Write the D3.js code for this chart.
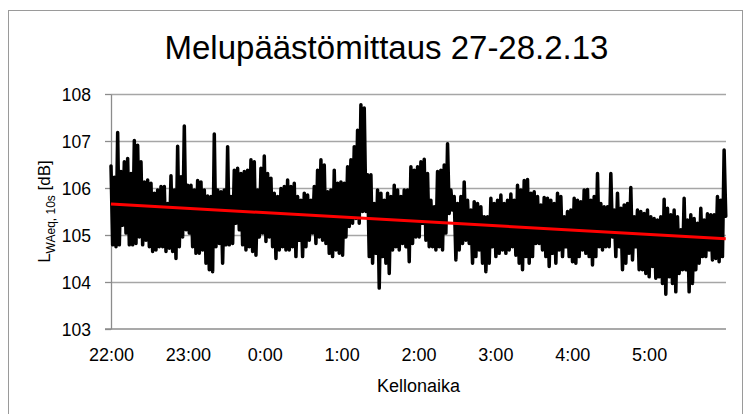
<!DOCTYPE html>
<html>
<head>
<meta charset="utf-8">
<script src="https://cdn.jsdelivr.net/npm/d3@7"></script>
<style>
  body { margin: 0; background: #fff; }
  svg { display: block; font-family: "Liberation Sans", Arial, sans-serif; }
</style>
</head>
<body>
<svg id="chart" width="752" height="414"></svg>
<script>
// chart texts
const title = 'Melupäästömittaus 27-28.2.13';
const xLabel = 'Kellonaika';
const yLabelMain = 'L';
const yLabelSub = 'WAeq, 10s';
const yLabelUnit = ' [dB]';

// axes
const yTicks = [103, 104, 105, 106, 107, 108];
const hourLabels = ['22:00', '23:00', '0:00', '1:00', '2:00', '3:00', '4:00', '5:00'];
const startTime = new Date(2013, 1, 27, 22, 0, 0);
const endTime = new Date(2013, 1, 28, 6, 0, 0);
const lastTime = new Date(2013, 1, 28, 5, 59, 50);

// LWAeq,10s: local maxima and minima, in time order (dB)
const peaks = [
  106.47, 106.23, 107.18, 106.35, 106.56, 106.63, 106.31, 107.01, 106.91, 106.56,
  106.13, 106.17, 106.10, 105.89, 105.96, 106.03, 106.03, 105.67, 106.26, 105.96,
  106.89, 106.24, 107.32, 106.06, 106.06, 105.96, 106.16, 106.13, 105.96, 105.83,
  105.82, 107.15, 105.96, 105.92, 105.96, 106.88, 105.82, 106.38, 106.42, 106.31,
  106.35, 106.38, 106.60, 106.56, 105.96, 106.42, 106.68, 106.31, 106.21, 105.89,
  105.82, 105.99, 106.03, 106.17, 106.03, 106.10, 105.82, 105.74, 105.89, 105.85, 105.74,
  106.03, 106.38, 106.60, 106.49, 105.92, 105.96, 106.38, 106.10, 106.13, 106.10,
  106.45, 106.60, 106.88, 107.23, 107.77, 107.70, 106.28, 106.28, 105.67, 105.96,
  105.89, 105.74, 105.89, 105.82, 106.06, 105.96, 105.82, 105.96, 105.96, 106.45, 106.38,
  106.45, 106.56, 106.61, 106.31, 105.74, 105.60, 106.35, 106.38, 106.49, 106.94,
  105.96, 105.82, 105.67, 105.82, 106.13, 105.74, 105.53, 105.71, 105.67, 105.60,
  105.39, 105.39, 105.78, 105.67, 105.74, 105.85, 105.67, 105.74, 105.87, 105.74,
  106.06, 105.96, 106.16, 106.18, 105.89, 105.92, 105.82, 105.64, 105.80, 105.78,
  105.74, 105.67, 105.89, 105.82, 105.39, 105.50, 105.53, 105.78, 105.74, 105.71,
  105.96, 105.97, 105.74, 105.82, 106.31, 105.67, 105.60, 105.60, 106.31, 105.53, 105.89,
  105.57, 105.64, 105.67, 106.01, 105.39, 105.53, 105.50, 105.46, 105.53, 105.39,
  105.35, 105.32, 105.39, 105.76, 105.57, 105.43, 105.53, 105.39, 105.11, 105.78,
  105.32, 105.43, 105.35, 105.25, 105.57, 105.32, 105.45, 105.43, 105.43, 105.82, 105.74, 106.81
];
const dips = [
  104.79, 104.75, 104.79, 105.21, 105.04, 104.79, 104.79, 104.82, 104.96, 104.79,
  104.89, 104.75, 104.65, 104.68, 104.75, 104.75, 104.65, 104.72, 104.65, 104.50,
  104.75, 104.96, 105.11, 105.04, 104.75, 104.61, 104.61, 104.68, 104.40, 104.26,
  104.22, 104.75, 104.82, 104.40, 104.79, 104.79, 104.82, 105.25, 105.11, 104.79,
  104.68, 104.75, 104.65, 104.57, 104.96, 105.04, 104.86, 104.96, 104.75, 104.50,
  104.68, 104.75, 104.68, 104.68, 104.75, 104.54, 104.89, 104.54, 104.75, 104.89, 105.04,
  104.82, 104.96, 104.89, 104.82, 104.61, 104.54, 104.68, 104.61, 104.57, 104.96,
  105.18, 105.25, 105.35, 105.25, 105.50, 105.50, 104.54, 104.40, 104.61, 103.87,
  104.54, 104.40, 104.18, 104.68, 104.75, 104.68, 104.82, 104.75, 104.43, 104.82, 104.96,
  104.96, 105.25, 104.89, 104.75, 104.75, 104.68, 104.75, 104.68, 105.04, 105.46,
  105.53, 104.47, 104.68, 104.82, 104.89, 104.82, 104.40, 104.54, 104.68, 104.40,
  104.22, 104.40, 104.75, 104.54, 104.61, 104.68, 104.61, 104.68, 104.75, 104.57,
  104.40, 104.26, 104.54, 104.40, 104.54, 104.82, 104.82, 104.68, 104.54, 104.33,
  104.61, 104.40, 104.68, 104.54, 104.75, 104.54, 104.43, 104.40, 104.54, 104.68,
  104.61, 104.54, 104.36, 104.54, 104.75, 104.68, 104.75, 104.75, 104.96, 104.54, 104.75,
  104.26, 104.40, 104.61, 104.47, 104.75, 104.26, 104.26, 104.18, 104.11, 104.33,
  104.08, 104.11, 103.97, 103.74, 104.11, 103.97, 103.79, 104.18, 104.26, 104.26,
  103.79, 103.97, 104.26, 104.40, 104.54, 104.54, 104.68, 104.47, 104.50, 104.43, 104.54, 105.40
];
// linear trendline, value at first and last sample (dB)
const trend = [105.66, 104.92];

const margin = {top: 94, right: 26, bottom: 85, left: 111};
const width = 752 - margin.left - margin.right;
const height = 414 - margin.top - margin.bottom;

const svg = d3.select('#chart');

// chart area border
svg.append('rect')
  .attr('x', 8.5).attr('y', 10.5)
  .attr('width', 734).attr('height', 420)
  .attr('fill', 'none')
  .attr('stroke', '#9a9a9a')
  .attr('stroke-width', 1);

svg.append('text')
  .attr('x', 386.5).attr('y', 59)
  .attr('text-anchor', 'middle')
  .attr('font-size', 33)
  .attr('fill', '#000')
  .text(title);

const g = svg.append('g')
  .attr('transform', `translate(${margin.left},${margin.top})`);

const x = d3.scaleTime().domain([startTime, endTime]).range([0, width]);
const y = d3.scaleLinear().domain([103, 108]).range([height, 0]);

// grid lines
g.append('g')
  .attr('class', 'grid')
  .call(d3.axisLeft(y).tickValues(yTicks.slice(1)).tickSize(-width).tickFormat(''))
  .call(s => s.select('.domain').remove())
  .call(s => s.selectAll('line').attr('stroke', '#a6a6a6').attr('stroke-width', 1.3));

// y axis
g.append('g')
  .call(d3.axisLeft(y).tickValues(yTicks).tickFormat(d3.format('d'))
    .tickSizeInner(6).tickSizeOuter(0).tickPadding(14))
  .call(s => s.select('.domain').attr('stroke', '#8c8c8c').attr('stroke-width', 1.3))
  .call(s => s.selectAll('line').attr('stroke', '#8c8c8c').attr('stroke-width', 1.3))
  .call(s => s.selectAll('text')
    .attr('font-size', 17.5)
    .attr('font-family', '"Liberation Sans", Arial, sans-serif')
    .attr('fill', '#000')
    .attr('dy', '0.35em'));

// x axis
const hours = d3.timeHour.range(startTime, endTime);
g.append('g')
  .attr('transform', `translate(0,${height})`)
  .call(d3.axisBottom(x).tickValues(hours).tickSizeInner(0).tickSizeOuter(0).tickPadding(19)
    .tickFormat((d, i) => hourLabels[i]))
  .call(s => s.select('.domain').attr('stroke', '#8c8c8c').attr('stroke-width', 1.3)
    .attr('d', `M-6,0H${width}`))
  .call(s => s.selectAll('text')
    .attr('font-size', 18)
    .attr('font-family', '"Liberation Sans", Arial, sans-serif')
    .attr('fill', '#000'));

// measured series: maxima and minima alternate
const levels = peaks.flatMap((p, i) => [p, dips[i]]);
const sampleTime = d3.scaleLinear().domain([0, levels.length - 1]).range([+startTime, +lastTime]);

g.append('path')
  .datum(levels)
  .attr('fill', 'none')
  .attr('stroke', '#000')
  .attr('stroke-width', 3.5)
  .attr('stroke-linejoin', 'round')
  .attr('stroke-linecap', 'round')
  .attr('d', d3.line()
    .x((d, i) => x(new Date(sampleTime(i))))
    .y(d => y(d)));

// trendline
g.append('path')
  .datum([[startTime, trend[0]], [lastTime, trend[1]]])
  .attr('fill', 'none')
  .attr('stroke', '#ff0000')
  .attr('stroke-width', 3)
  .attr('d', d3.line().x(d => x(d[0])).y(d => y(d[1])));

// axis titles
svg.append('text')
  .attr('x', margin.left + width / 2).attr('y', 391.5)
  .attr('text-anchor', 'middle')
  .attr('font-size', 18)
  .text(xLabel);

const yl = svg.append('text')
  .attr('transform', `translate(50,${margin.top + height / 2}) rotate(-90)`)
  .attr('text-anchor', 'middle')
  .attr('font-size', 17);
yl.append('tspan').text(yLabelMain);
yl.append('tspan').attr('font-size', 12).attr('dy', 5).text(yLabelSub);
yl.append('tspan').attr('dy', -5).text(yLabelUnit);
</script>
</body>
</html>
